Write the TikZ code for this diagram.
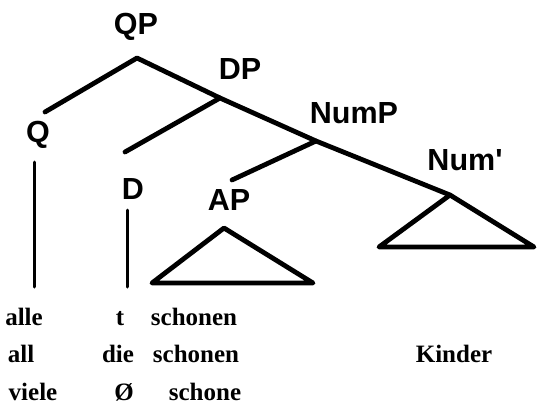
\documentclass[tikz,border=0pt]{standalone}
\usepackage{fontspec}
\setmainfont{Liberation Serif}
\newfontfamily\labelfont{Liberation Sans}
\begin{document}
\begin{tikzpicture}[x=1pt,y=-1pt,
  cat/.style={font=\labelfont\bfseries\fontsize{30.5}{32}\selectfont, inner sep=0pt, anchor=base},
  word/.style={font=\bfseries\fontsize{25}{27}\selectfont, inner sep=0pt, anchor=base},
  branch/.style={line width=4.8pt, line cap=round, line join=round},
  stem/.style={line width=3pt, line cap=round}]
\useasboundingbox (0,0) rectangle (538,410);

% category labels
\node[cat] (QP)   at (136,34)  {QP};
\node[cat] (Q)    at (38,142)  {Q};
\node[cat] (DP)   at (240,79)  {DP};
\node[cat] (D)    at (133,199) {D};
\node[cat] (NumP) at (354,123) {NumP};
\node[cat] (AP)   at (229,210) {AP};
\node[cat] (Numb) at (465,170) {Num'};

% branching points and branch ends
\coordinate (qpj)  at (137,58);
\coordinate (qend) at (45,112);
\coordinate (dpj)  at (220,98);
\coordinate (dend) at (125,152);
\coordinate (npj)  at (316,141);
\coordinate (aend) at (232,180);
\coordinate (nbj)  at (450,195);
\coordinate (nbl)  at (379,247);
\coordinate (nbr)  at (534,247);
\coordinate (apt)  at (224,228);
\coordinate (apl)  at (152,283);
\coordinate (apr)  at (313,283);
\coordinate (qtop) at (34,162);
\coordinate (qbot) at (34,287);
\coordinate (dtop) at (127,210);
\coordinate (dbot) at (127,287);

% tree
\draw[branch] (qend) -- (qpj) -- (dpj) -- (npj) -- (nbj);
\draw[branch] (dpj) -- (dend);
\draw[branch] (npj) -- (aend);
\draw[branch] (nbj) -- (nbl) -- (nbr) -- cycle;
\draw[branch] (apt) -- (apl) -- (apr) -- cycle;
\draw[stem] (qtop) -- (qbot);
\draw[stem] (dtop) -- (dbot);

% word rows
\node[word] (w11) at (24,325)  {alle};
\node[word] (w12) at (120,325) {t};
\node[word] (w13) at (194,325) {schonen};
\node[word] (w21) at (21,362)  {all};
\node[word] (w22) at (118,362) {die};
\node[word] (w23) at (196,362) {schonen};
\node[word] (w24) at (454,362) {Kinder};
\node[word] (w31) at (33,400)  {viele};
\node[word] (w32) at (124,400) {Ø};
\node[word] (w33) at (205,400) {schone};
\end{tikzpicture}
\end{document}
